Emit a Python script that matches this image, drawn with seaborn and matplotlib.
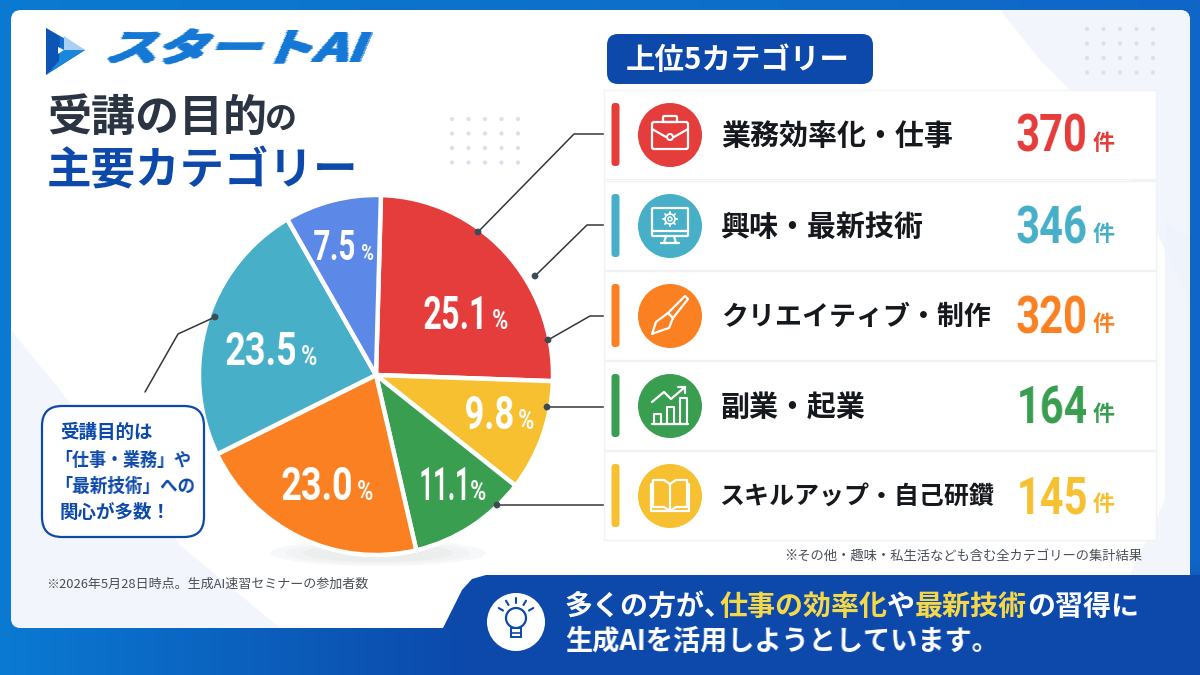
import numpy as np
import matplotlib
matplotlib.use('Agg')
import matplotlib.pyplot as plt
import seaborn as sns
from matplotlib.colors import to_rgb
from matplotlib.patches import Circle, Ellipse, FancyBboxPatch, Polygon, Rectangle

# slices clockwise from the top. the drawn angles differ a bit from the printed
# percentages in the picture, so both are kept
pie_shares = [25.1, 10.0, 10.8, 21.4, 23.9, 8.8]
pie_labels = ['25.1', '9.8', '11.1', '23.0', '23.5', '7.5']
pie_colors = ['#e53d3b', '#f6c030', '#3a9e50', '#fb8022', '#47b0c8', '#5c88e8']

# top five table
top_names = ['業務効率化・仕事', '興味・最新技術', 'クリエイティブ・制作', '副業・起業', 'スキルアップ・自己研鑽']
top_counts = [370, 346, 320, 164, 145]
top_colors = ['#e53d3b', '#47b0c8', '#fb8022', '#3a9e50', '#f6c030']

sns.set_theme(style='white')
CJK = 'Noto Sans CJK JP'
plt.rcParams['font.family'] = [CJK, 'DejaVu Sans']
PX = 0.72  # px to pt at dpi 100
BLUE = '#0c49ab'

fig = plt.figure(figsize=(12, 6.75), dpi=100)


def layer(z):
    ax = fig.add_axes([0, 0, 1, 1], zorder=z)
    ax.set_xlim(0, 1200)
    ax.set_ylim(675, 0)
    ax.axis('off')
    return ax


def squash(fx, anchor='left', skew=0.0, thick=0, vthick=0):
    # no condensed font installed, so the rendered text is resized sideways
    def f(img, dpi):
        h, w = img.shape[:2]
        nw = max(1, int(round(w * fx)))
        rgb = img[np.unravel_index(img[..., 3].argmax(), (h, w))][:3]
        xs = np.clip((np.arange(nw) + 0.5) / fx - 0.5, 0, w - 1)
        i0 = xs.astype(int)
        i1 = np.minimum(i0 + 1, w - 1)
        t = xs - i0
        alpha = img[:, i0, 3] * (1 - t) + img[:, i1, 3] * t
        alpha = np.pad(alpha, ((vthick, 0), (0, thick)))
        for _ in range(thick):
            alpha[:, 1:] = np.maximum(alpha[:, 1:], alpha[:, :-1].copy())
        for _ in range(vthick):
            alpha[:-1] = np.maximum(alpha[:-1], alpha[1:].copy())
        h2, w2 = alpha.shape
        pad = int(h2 * skew) + 1
        out = np.zeros((h2, w2 + pad, 4))
        out[..., :3] = rgb
        for r in range(h2):
            dx = int((h2 - r) * skew)
            out[r, dx:dx + w2, 3] = alpha[r]
        ox = w - nw if anchor == 'right' else 0
        return out, ox, 0
    return f


bg = layer(0)
fg = layer(2)

# background
xx = np.linspace(0, 1, 400)[None, :, None]
yy = np.linspace(0, 1, 300)[:, None, None]
left = np.array(to_rgb('#0a7ad2'))[None, None, :]
top_band = left + (np.array(to_rgb('#1066c6')) - left) * xx
low_band = left + (np.array(to_rgb(BLUE)) - left) * np.clip(xx * 1200 / 470, 0, 1)
w = np.clip((yy * 675 - 560) / 60, 0, 1)
bg.imshow(top_band * (1 - w) + low_band * w, extent=(0, 1200, 675, 0), aspect='auto', zorder=0)
bg.set_xlim(0, 1200)
bg.set_ylim(675, 0)

panel = FancyBboxPatch((11, 10), 1179, 618, boxstyle='round,pad=0,rounding_size=10', fc='white', ec='none', zorder=1)
bg.add_patch(panel)
for pts in ([(11, 330), (60, 390), (180, 545), (280, 628), (11, 628)],
            [(1000, 10), (1190, 10), (1190, 300), (1100, 120), (1040, 60)],
            [(1165, 220), (1190, 240), (1190, 575), (1130, 575), (1165, 500)]):
    p = Polygon(pts, fc='#eef3fb', ec='none', alpha=0.75, zorder=1.1)
    bg.add_patch(p)
    p.set_clip_path(panel)

# dotted decoration
for x0, y0 in ((452, 119), (1087, 29)):
    for i in range(5):
        for j in range(4):
            bg.add_patch(Circle((x0 + i * 16.5, y0 + j * 14.5), 2.1, fc='#d9e1ef', ec='none', zorder=1.2))

# bottom banner
bg.add_patch(Polygon([(443, 628), (462, 590), (472, 579), (486, 575), (1190, 575), (1200, 575), (1200, 628)],
                     fc=BLUE, ec='none', zorder=1.5))
bg.add_patch(Rectangle((470, 627), 730, 48, fc=BLUE, ec='none', zorder=1.5))

# logo
bg.add_patch(Polygon([(46, 28), (85, 50), (46, 75)], fc='#1170cc', ec='none', zorder=2))
bg.add_patch(Polygon([(64, 36), (85, 50), (64, 50)], fc='#a9d0f2', ec='none', zorder=2.1))
bg.add_patch(Polygon([(59, 46), (64, 50), (85, 50), (52, 71)], fc='#1a86dc', ec='none', zorder=2.1))
bg.add_patch(Polygon([(46, 28), (60, 37), (59, 61), (46, 75)], fc='#0d55b4', ec='none', zorder=2.2))
bg.add_patch(Polygon([(58, 47), (64, 50), (58, 54)], fc='white', ec='none', zorder=2.3))

logo = fg.text(101, 51, 'スタートAI', fontsize=38 * PX, fontweight='bold', color='#1478d4', va='center', ha='left')
logo.set_agg_filter(squash(1.38, skew=0.42, thick=3, vthick=2))

# titles
fg.text(47, 118, '受講の目的', fontsize=44 * PX, fontweight='bold', color='#2b3442', va='center')
fg.text(265, 120, 'の', fontsize=32 * PX, fontweight='bold', color='#2b3442', va='center')
fg.text(47, 171, '主要カテゴリー', fontsize=44.5 * PX, fontweight='bold', color=BLUE, va='center')

# pie
CX, CY, RX, RY = 376, 375, 177, 180
for wd, ht, col in ((215, 26, '#f7f8f9'), (185, 22, '#f2f3f4'), (150, 18, '#eceded')):
    bg.add_patch(Ellipse((378, 553), wd, ht, fc=col, ec='none', zorder=1.3))
pie_ax = fig.add_axes([(CX - RX) / 1200, 1 - (CY + RY) / 675, 2 * RX / 1200, 2 * RY / 675], zorder=1)
pie_ax.pie(pie_shares, colors=pie_colors, startangle=88.4, counterclock=False, radius=1,
           wedgeprops={'edgecolor': 'white', 'linewidth': 3.2})
pie_ax.set_aspect('auto')
pie_ax.set_xlim(-1, 1)
pie_ax.set_ylim(-1, 1)

# right edge of the number, baseline, number size, sideways factor, % left edge, % size
label_style = [(490, 329, 46, 0.70, 492, 28), (514, 429, 46, 0.75, 518, 28), (474, 500, 46, 0.55, 470, 28),
               (353, 500, 46, 0.78, 357, 28), (297, 365, 46, 0.78, 301, 28), (356, 260, 42, 0.71, 361, 22)]
for lab, (x, y, size, fx, px, psize) in zip(pie_labels, label_style):
    t = fg.text(x, y, lab, fontsize=size * PX, family='Roboto', fontweight='bold', color='white', ha='right', va='baseline')
    t.set_agg_filter(squash(fx, 'right'))
    t = fg.text(px, y, '%', fontsize=psize * PX, family='Roboto', fontweight='bold', color='white', ha='left', va='baseline')
    t.set_agg_filter(squash(0.78))

# leader lines
leaders = [[(478, 232), (574, 134), (606, 134)],
           [(535, 276), (587, 225), (606, 225)],
           [(548, 340), (590, 316), (606, 316)],
           [(547, 407), (606, 407)],
           [(497, 505), (606, 505)],
           [(215, 317), (178, 334), (145, 392)]]
for pts in leaders:
    xs, ys = zip(*pts)
    fg.plot(xs, ys, color='#33383e', lw=1.1, zorder=3, solid_capstyle='round')
    fg.add_patch(Circle(pts[0], 3.4, fc='#3f4a52', ec='none', zorder=4))

# callout
fg.add_patch(FancyBboxPatch((42, 406), 162, 131, boxstyle='round,pad=0,rounding_size=20', fc='white', ec=BLUE, lw=1.6, zorder=3))
for y, line_txt, x0, fx in ((432, '受講目的は', 60, 1.0), (460, '「仕事・業務」や', 54, 0.92),
                            (486, '「最新技術」への', 54, 0.95), (512, '関心が多数！', 60, 1.0)):
    t = fg.text(x0, y, line_txt, fontsize=18.5 * PX, fontweight='bold', color=BLUE, va='center', zorder=4)
    if fx != 1.0:
        t.set_agg_filter(squash(fx))

# notes
fg.text(46, 584, '※2026年5月28日時点。生成AI速習セミナーの参加者数', fontsize=13 * PX, color='#4a4f57', va='center')
fg.text(1142, 557, '※その他・趣味・私生活なども含む全カテゴリーの集計結果', fontsize=13.3 * PX, color='#4a4f57', va='center', ha='right')

# badge
fg.add_patch(FancyBboxPatch((607, 34), 266, 50, boxstyle='round,pad=0,rounding_size=11', fc=BLUE, ec='none', zorder=3))
fg.text(626, 60, '上位5カテゴリー', fontsize=29.5 * PX, fontweight='bold', color='white', va='center', zorder=4)


def line(pts, lw=1.6):
    xs, ys = zip(*pts)
    fg.plot(xs, ys, color='white', lw=lw, zorder=6, solid_capstyle='round', solid_joinstyle='round')


def box(x, y, w, h, r=2, lw=1.6):
    fg.add_patch(FancyBboxPatch((x, y), w, h, boxstyle=f'round,pad=0,rounding_size={r}', fc='none', ec='white', lw=lw, zorder=6))


def icon_case(cx, cy):
    box(cx - 18, cy - 13, 36, 27)
    box(cx - 7, cy - 19, 14, 6, r=1.5)
    line([(cx - 18, cy - 6), (cx - 4, cy + 2)])
    line([(cx + 18, cy - 6), (cx + 4, cy + 2)])
    fg.add_patch(Circle((cx, cy + 2), 3, fc='none', ec='white', lw=1.5, zorder=6))


def icon_screen(cx, cy):
    box(cx - 18, cy - 18, 36, 28, r=1)
    line([(cx - 18, cy + 5), (cx + 18, cy + 5)])
    line([(cx - 4, cy + 10), (cx - 6, cy + 17)])
    line([(cx + 4, cy + 10), (cx + 6, cy + 17)])
    line([(cx - 9, cy + 17), (cx + 9, cy + 17)])
    gy = cy - 7
    fg.add_patch(Circle((cx, gy), 5, fc='none', ec='white', lw=1.2, zorder=6))
    fg.add_patch(Circle((cx, gy), 2, fc='none', ec='white', lw=1, zorder=6))
    for a in np.arange(0, 360, 45):
        t = np.radians(a)
        line([(cx + 5 * np.cos(t), gy + 5 * np.sin(t)), (cx + 7 * np.cos(t), gy + 7 * np.sin(t))], lw=1.4)


def icon_brush(cx, cy):
    fg.add_patch(Polygon([(cx + 15, cy - 20), (cx + 18, cy - 17), (cx + 3, cy + 2), (cx - 2, cy - 3)],
                         fc='none', ec='white', lw=1.6, zorder=6, joinstyle='round'))
    fg.add_patch(Polygon([(cx - 2, cy - 3), (cx + 3, cy + 2), (cx - 1, cy + 12), (cx - 10, cy + 15), (cx - 18, cy + 18),
                          (cx - 14, cy + 6)], fc='none', ec='white', lw=1.6, zorder=6, joinstyle='round'))


def icon_chart(cx, cy):
    for x, h in ((-16, 10), (-3, 17), (10, 26)):
        box(cx + x, cy + 18 - h, 7, h, r=0.2, lw=1.5)
    line([(cx - 18, cy + 18), (cx + 18, cy + 18)])
    line([(cx - 18, cy - 4), (cx - 6, cy - 14), (cx + 1, cy - 7), (cx + 15, cy - 19)])
    line([(cx + 8, cy - 19), (cx + 15, cy - 19), (cx + 15, cy - 13)])


def icon_book(cx, cy):
    line([(cx, cy - 12), (cx - 6, cy - 16), (cx - 17, cy - 16), (cx - 17, cy + 11), (cx - 6, cy + 11), (cx, cy + 15)])
    line([(cx, cy - 12), (cx + 6, cy - 16), (cx + 17, cy - 16), (cx + 17, cy + 11), (cx + 6, cy + 11), (cx, cy + 15)])
    line([(cx, cy - 12), (cx, cy + 15)])
    line([(cx - 17, cy - 12), (cx - 19, cy - 12), (cx - 19, cy + 15), (cx + 19, cy + 15), (cx + 19, cy - 12), (cx + 17, cy - 12)])


icons = [icon_case, icon_screen, icon_brush, icon_chart, icon_book]
card_tops = [90, 181, 271, 361, 451]
card_h = 89

# cards
for top, name, count, color, icon in zip(card_tops, top_names, top_counts, top_colors, icons):
    fg.add_patch(Rectangle((604, top), 552, card_h, fc='white', ec='#f0f2f5', lw=1, zorder=3))
    fg.add_patch(FancyBboxPatch((611.5, top + 13), 8, 63, boxstyle='round,pad=0,rounding_size=3.5', fc=color, ec='none', zorder=4))
    mid = top + 45
    fg.add_patch(Ellipse((670, mid), 64, 64, fc=color, ec='none', zorder=5))
    icon(670, mid)
    size = 29 if len(name) <= 8 else (27 if len(name) == 10 else 25)
    x_name = 721 if len(name) < 11 else 719
    fg.text(x_name, mid + 1, name, fontsize=size * PX, fontweight='bold', color='#15181c', va='center', zorder=5)
    t = fg.text(1088, mid + 17, str(count), fontsize=52 * PX, family='Roboto', fontweight='bold', color=color, ha='right', va='baseline', zorder=5)
    t.set_agg_filter(squash(0.8, 'right'))
    fg.text(1093, mid + 15, '件', fontsize=22 * PX, fontweight='bold', color=color, ha='left', va='baseline', zorder=5)

# banner icon
fg.add_patch(Ellipse((516, 622), 58, 58, fc='white', ec='none', zorder=3))
fg.add_patch(Circle((516, 618), 10, fc='none', ec=BLUE, lw=1.6, zorder=4))
fg.add_patch(Rectangle((511, 628), 10, 9, fc='white', ec=BLUE, lw=1.4, zorder=5))
fg.plot([511, 521], [632.5, 632.5], color=BLUE, lw=1.2, zorder=6)
for a in (-150, -120, -90, -60, -30):
    t = np.radians(a)
    fg.plot([516 + 15 * np.cos(t), 516 + 20 * np.cos(t)], [618 + 15 * np.sin(t), 618 + 20 * np.sin(t)], color=BLUE, lw=1.5, zorder=4)

# banner text
x = 565
FS = 28
for part, color in (('多くの方が、', 'white'), ('仕事の効率化', '#f5d84a'), ('や', 'white'), ('最新技術', '#f5d84a'), ('の習得に', 'white')):
    fg.text(x, 607, part, fontsize=FS * PX, fontweight='bold', color=color, va='center', zorder=4)
    x += FS * (len(part) - 0.5 if part.endswith('、') else len(part))
t = fg.text(565, 642, '生成AIを活用しようとしています。', fontsize=FS * PX, fontweight='bold', color='white', va='center', zorder=4)
t.set_agg_filter(squash(0.97))

fig.savefig('out.png', dpi=100)
